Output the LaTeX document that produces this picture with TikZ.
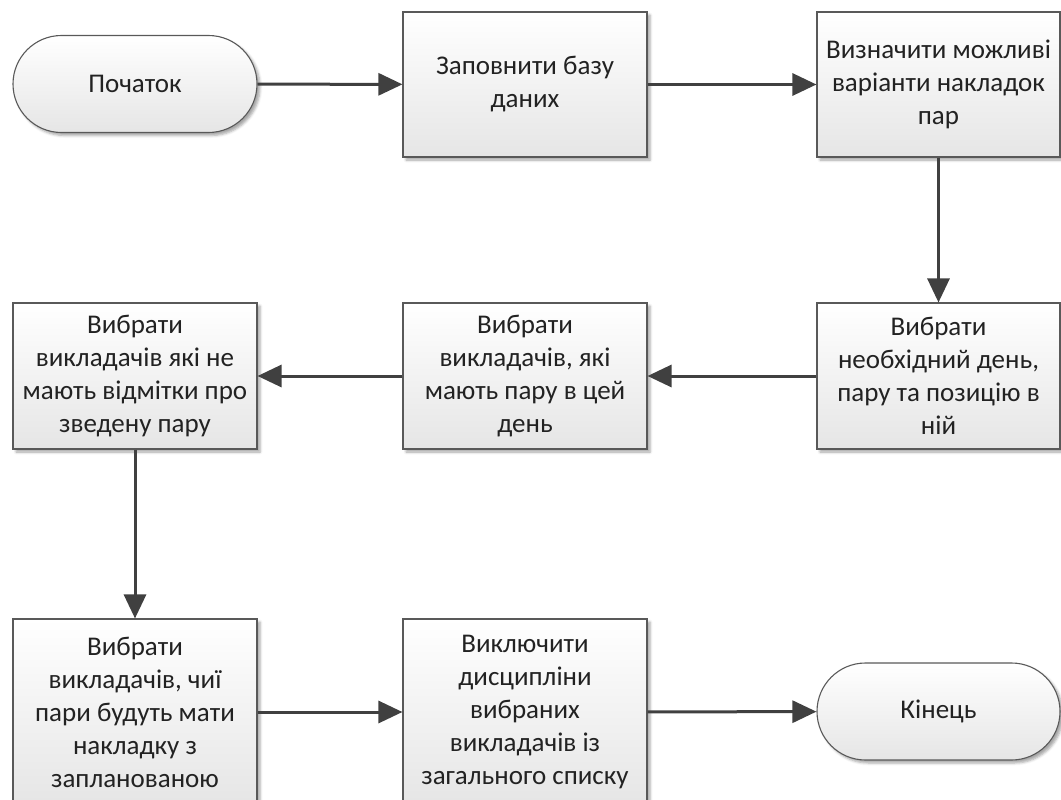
\documentclass[tikz,border=0pt]{standalone}
\usepackage{fontspec}
\setmainfont{Carlito}
\usetikzlibrary{arrows.meta,shapes.misc,shadows.blur}
\definecolor{edgec}{HTML}{595959}
\definecolor{arrc}{HTML}{404040}
\definecolor{txtc}{HTML}{222222}
\tikzset{
  base/.style={draw=edgec, line width=1.1pt, top color=white, bottom color=gray!20,
    text=txtc, align=center, inner sep=0pt, font=\fontsize{27}{33}\selectfont,
    blur shadow={shadow xshift=3pt, shadow yshift=-3pt, shadow blur radius=2.5pt, shadow opacity=35}},
  procbox/.style={base, rectangle, minimum width=244pt, minimum height=145pt},
  tallbox/.style={base, rectangle, minimum width=244pt, minimum height=186pt},
  termbox/.style={base, rounded rectangle, minimum width=244pt, minimum height=97pt},
  flow/.style={draw=arrc, line width=3pt, -{Triangle[length=24pt,width=22pt]}}
}
\begin{document}
\begin{tikzpicture}[x=1pt,y=-1pt]
\useasboundingbox (0,0) rectangle (1061,800);
\clip (0,0) rectangle (1061,800);
\node[termbox] (start) at (135,84) {Початок};
\node[procbox] (fill) at (525,84.5) {Заповнити базу\\даних};
\node[procbox, minimum width=243pt] (def) at (938.5,84.5) {Визначити можливі\\варіанти накладок\\пар};
\node[procbox, minimum width=243pt, minimum height=146pt] (choose) at (938.5,376) {Вибрати\\необхідний день,\\пару та позицію в\\ній};
\node[procbox, minimum height=146pt] (teach) at (525,376) {Вибрати\\викладачів, які\\мають пару в цей\\день};
\node[procbox, minimum height=146pt] (nomark) at (135,376) {Вибрати\\викладачів які не\\мають відмітки про\\зведену пару};
\node[tallbox] (overlap) at (135,712) {Вибрати\\викладачів, чиї\\пари будуть мати\\накладку з\\запланованою};
\node[tallbox] (excl) at (525,712) {Виключити\\дисципліни\\вибраних\\викладачів із\\загального списку};
\node[termbox, minimum width=243pt] (end) at (938.5,711.5) {Кінець};
\draw[flow] (start) -- (fill);
\draw[flow] (fill) -- (def);
\draw[flow] (def) -- (choose);
\draw[flow] (choose) -- (teach);
\draw[flow] (teach) -- (nomark);
\draw[flow] (nomark) -- (overlap);
\draw[flow] (overlap) -- (excl);
\draw[flow] (excl) -- (end);
\end{tikzpicture}
\end{document}
